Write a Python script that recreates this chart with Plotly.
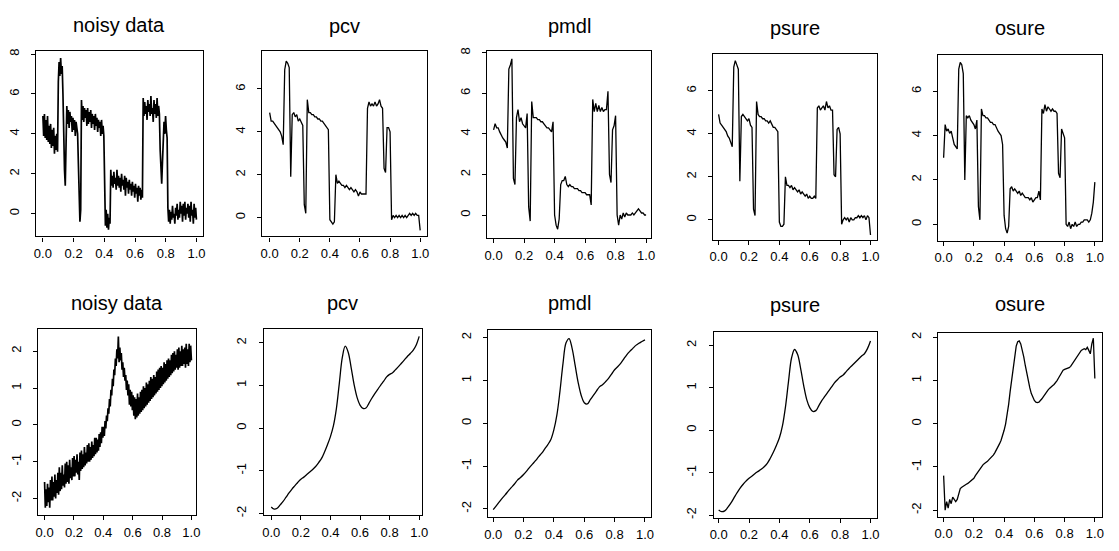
import numpy as np
import plotly.graph_objects as go

# ---------------- data ----------------
titles = ["noisy data", "pcv", "pmdl", "psure", "osure",
          "noisy data", "pcv", "pmdl", "psure", "osure"]

x_ticks = [0.0, 0.2, 0.4, 0.6, 0.8, 1.0]
x_tick_labels = ["0.0", "0.2", "0.4", "0.6", "0.8", "1.0"]
y_ticks_top_a = [0, 2, 4, 6, 8]
y_ticks_top_b = [0, 2, 4, 6]
y_ticks_bottom = [-2, -1, 0, 1, 2]

# Row 1: noisy blocks-type signal (200 equally spaced samples on [0,1])
noisy_blocks = [
    4.9, 3.9, 5.0, 3.8, 4.7, 3.7, 4.9, 3.6, 4.4, 3.5, 4.5, 3.3, 4.2, 3.4, 4.3, 3.0, 3.9, 3.2, 4.0, 3.1,
    6.6, 7.6, 6.9, 7.8, 7.0, 7.4,
    6.0, 3.6, 2.2, 1.4,
    4.6, 5.4, 4.5, 5.2, 4.3, 5.1, 4.6, 4.9, 4.1, 4.8, 4.2, 4.7, 3.9, 4.6, 4.3, 4.0,
    2.5, 0.9, -0.4, 0.2,
    5.7, 4.7, 5.4, 4.6, 5.3, 4.8, 5.2, 4.4, 5.3, 4.5, 5.1, 4.6, 5.2, 4.3, 5.0, 4.5, 4.9, 4.2, 5.0, 4.4,
    4.8, 4.1, 4.7, 4.3, 4.6, 3.9, 4.7, 4.0, 4.4, 3.9,
    -0.1, -0.6, 0.2, -0.7, 0.0, -0.8, -0.2, -0.5,
    2.2, 1.4, 1.9, 1.3, 2.1, 1.5, 1.8, 1.2, 2.2, 1.4, 1.9, 1.3, 1.8, 1.1, 2.0, 1.4, 1.7, 1.2, 1.9, 0.9,
    1.8, 1.3, 1.6, 1.0, 1.7, 1.2, 1.5, 0.9, 1.6, 1.1, 1.4, 0.8, 1.5, 1.0, 1.3, 0.6, 1.4, 0.9, 1.3, 0.7,
    1.2, 0.8,
    5.8, 4.9, 5.6, 5.0, 5.4, 4.7, 5.7, 5.1, 5.5, 4.9, 5.9, 5.0, 5.3, 4.6, 5.7, 5.0, 5.5, 4.8, 5.8, 4.9,
    5.4, 5.0,
    3.2, 1.7, 1.5, 2.6,
    3.9, 4.6, 4.0, 4.9, 4.2, 3.8,
    0.3, -0.4, 0.2, -0.5, 0.1, -0.3, 0.4, -0.2, 0.0, -0.5, 0.3, -0.1, 0.5, -0.3, 0.2, -0.2, 0.6, 0.0, 0.4, -0.4,
    0.5, -0.1, 0.6, -0.3, 0.3, 0.0, 0.5, -0.2, 0.4, -0.4, 0.6, -0.1, 0.2, -0.5, 0.5, -0.2, 0.3, -0.3,
]

# Row 1 fits (101 equally spaced points on [0,1])
pcv_blocks = [
    4.9, 4.5, 4.5, 4.4, 4.3, 4.2, 4.1, 4.0, 3.8, 3.4,
    6.9, 7.3, 7.2, 7.0, 1.9, 4.8, 4.9, 4.7, 4.8, 4.5,
    4.6, 4.4, 4.3, 0.6, 0.2, 5.5, 4.9, 4.9, 4.8, 4.8,
    4.7, 4.7, 4.6, 4.6, 4.5, 4.5, 4.4, 4.3, 4.2, 4.1,
    -0.1, -0.2, -0.3, -0.2, 2.0, 1.6, 1.7, 1.6, 1.5, 1.5,
    1.4, 1.5, 1.4, 1.3, 1.4, 1.3, 1.2, 1.3, 1.2, 1.0,
    1.2, 1.1, 1.1, 1.1, 1.1, 5.1, 5.4, 5.2, 5.3, 5.2,
    5.4, 5.2, 5.3, 5.5, 5.2, 5.1, 2.3, 2.1, 4.2, 4.2,
    4.0, -0.1, 0.1, 0.0, 0.1, 0.0, 0.1, 0.0, 0.1, 0.0,
    0.1, 0.0, 0.1, 0.2, 0.1, 0.2, 0.1, 0.2, 0.1, 0.1,
    -0.6,
]
pmdl_blocks = [
    4.2, 4.5, 4.3, 4.3, 4.1, 3.9, 3.8, 3.7, 3.6, 3.3,
    7.2, 7.4, 7.7, 1.8, 1.5, 4.8, 5.2, 4.6, 4.8, 4.5,
    4.4, 4.3, 5.0, 0.4, -0.3, 5.6, 4.8, 4.8, 4.8, 4.7,
    4.7, 4.6, 4.6, 4.5, 4.4, 4.3, 4.3, 4.2, 4.1, 4.6,
    0.0, -0.5, -0.7, -0.2, 1.5, 1.7, 1.7, 1.9, 1.5, 1.4,
    1.5, 1.4, 1.4, 1.3, 1.3, 1.3, 1.2, 1.2, 1.1, 1.1,
    1.1, 1.0, 1.0, 1.0, 0.5, 5.7, 5.1, 5.5, 5.1, 5.4,
    5.1, 5.3, 5.1, 5.2, 5.2, 6.1, 2.0, 1.6, 4.2, 4.4,
    4.9, 0.0, -0.5, 0.0, -0.2, 0.1, -0.1, 0.1, 0.0, 0.0,
    0.0, 0.1, 0.0, 0.1, 0.2, 0.3, 0.2, 0.1, 0.1, 0.0,
    0.0,
]
psure_blocks = [
    4.9, 4.5, 4.4, 4.3, 4.2, 4.1, 3.9, 3.8, 3.6, 3.4,
    7.1, 7.4, 7.2, 7.0, 1.8, 4.8, 4.9, 4.8, 4.7, 4.6,
    4.7, 4.4, 4.3, 0.5, 0.2, 5.5, 4.9, 4.8, 4.8, 4.7,
    4.7, 4.6, 4.6, 4.5, 4.6, 4.4, 4.3, 4.3, 4.2, 4.1,
    -0.1, -0.3, -0.3, -0.2, 2.0, 1.6, 1.6, 1.5, 1.6, 1.4,
    1.5, 1.4, 1.3, 1.4, 1.2, 1.3, 1.2, 1.1, 1.2, 1.0,
    1.1, 1.0, 1.0, 1.1, 1.0, 5.2, 5.3, 5.1, 5.2, 5.3,
    5.1, 5.5, 5.2, 5.3, 5.1, 5.1, 2.1, 2.0, 4.2, 4.3,
    4.0, -0.2, 0.0, 0.1, 0.0, 0.1, -0.1, 0.1, 0.0, 0.0,
    0.1, 0.1, 0.2, 0.1, 0.2, 0.1, 0.2, 0.0, 0.2, 0.1,
    -0.7,
]
osure_blocks = [
    3.0, 4.5, 4.2, 4.3, 4.1, 4.2, 3.9, 3.6, 3.5, 3.4,
    7.0, 7.3, 7.2, 6.8, 2.0, 4.9, 4.8, 4.9, 4.7, 4.6,
    4.5, 4.3, 4.7, 0.8, 0.2, 5.2, 4.9, 4.9, 4.8, 4.8,
    4.7, 4.6, 4.6, 4.5, 4.5, 4.3, 4.2, 4.1, 4.0, 3.6,
    0.4, -0.2, -0.4, -0.1, 1.6, 1.7, 1.5, 1.6, 1.5, 1.4,
    1.5, 1.3, 1.4, 1.3, 1.2, 1.2, 1.2, 1.1, 1.2, 1.0,
    1.1, 1.2, 1.2, 1.5, 1.1, 5.2, 5.0, 5.4, 5.1, 5.3,
    5.2, 5.1, 5.2, 5.1, 5.1, 5.0, 2.3, 2.1, 4.3, 4.1,
    3.9, 0.0, -0.1, 0.1, -0.2, 0.0, -0.1, 0.1, -0.1, 0.0,
    0.0, 0.1, 0.1, 0.2, 0.2, 0.2, 0.1, 0.2, 0.5, 1.0,
    1.9,
]

# Row 2: noisy smooth signal with a bump (200 equally spaced samples on [0,1])
noisy_bump = [
    -1.55, -2.25, -1.75, -2.2, -1.6, -2.1, -1.7, -2.25, -1.5, -2.05,
    -1.4, -2.05, -1.55, -1.95, -1.35, -2.0, -1.5, -1.85, -1.3, -1.9,
    -1.15, -1.8, -1.3, -1.75, -1.1, -1.65, -1.35, -1.7, -1.05, -1.6,
    -1.0, -1.55, -1.1, -1.6, -0.95, -1.45, -1.15, -1.5, -0.9, -1.4,
    -0.85, -1.4, -0.95, -1.3, -0.8, -1.35, -1.0, -1.5, -0.75, -1.25,
    -0.7, -1.2, -0.8, -1.15, -0.6, -1.1, -0.75, -1.05, -0.55, -1.0,
    -0.5, -1.0, -0.6, -0.95, -0.45, -0.9, -0.55, -0.85, -0.35, -0.8,
    -0.35, -0.75, -0.4, -0.7, -0.25, -0.6, -0.2, -0.5, -0.05, -0.35,
    -0.05, -0.3, 0.1, -0.1, 0.25, 0.1, 0.45, 0.3, 0.7, 0.5,
    0.95, 0.8, 1.25, 1.05, 1.5, 1.35, 1.8, 1.6, 2.05, 1.8,
    2.4, 1.7, 2.1, 1.75, 1.95, 1.5, 1.7, 1.3, 1.55, 1.2,
    1.35, 0.95, 1.2, 0.8, 1.1, 0.55, 0.95, 0.5, 0.9, 0.4,
    0.8, 0.25, 0.75, 0.15, 0.7, 0.2, 0.85, 0.25, 0.75, 0.3,
    0.9, 0.35, 0.95, 0.4, 1.05, 0.45, 1.0, 0.5, 1.15, 0.55,
    1.1, 0.6, 1.2, 0.65, 1.3, 0.7, 1.25, 0.75, 1.35, 0.8,
    1.3, 0.85, 1.45, 0.9, 1.5, 0.95, 1.55, 1.0, 1.6, 1.05,
    1.55, 1.1, 1.7, 1.15, 1.65, 1.2, 1.75, 1.25, 1.8, 1.3,
    1.75, 1.35, 1.9, 1.4, 1.95, 1.45, 2.0, 1.5, 1.9, 1.55,
    2.05, 1.5, 2.1, 1.55, 2.0, 1.6, 2.15, 1.6, 2.05, 1.65,
    2.1, 1.55, 2.2, 1.65, 2.05, 1.6, 2.2, 1.7, 2.15, 1.75,
]

# Row 2 fits (51 equally spaced points on [0,1])
pcv_bump = [
    -1.85, -1.9, -1.88, -1.8, -1.72, -1.62, -1.52, -1.43, -1.35, -1.27,
    -1.2, -1.15, -1.09, -1.03, -0.97, -0.9, -0.81, -0.71, -0.56, -0.39,
    -0.2, 0.05, 0.45, 1.05, 1.65, 1.92, 1.78, 1.42, 1.02, 0.72,
    0.54, 0.46, 0.47, 0.58, 0.7, 0.81, 0.91, 1.01, 1.1, 1.2,
    1.26, 1.3, 1.37, 1.44, 1.52, 1.6, 1.68, 1.75, 1.83, 1.95, 2.15,
]
pmdl_bump = [
    -2.02, -1.93, -1.84, -1.75, -1.67, -1.58, -1.5, -1.42, -1.33, -1.27,
    -1.2, -1.12, -1.03, -0.95, -0.87, -0.78, -0.7, -0.6, -0.5, -0.38,
    -0.15, 0.2, 0.75, 1.4, 1.88, 1.98, 1.75, 1.35, 0.95, 0.65,
    0.48, 0.45, 0.55, 0.65, 0.75, 0.85, 0.9, 0.97, 1.05, 1.15,
    1.25, 1.32, 1.4, 1.5, 1.6, 1.68, 1.75, 1.82, 1.87, 1.91, 1.95,
]
psure_bump = [
    -1.88, -1.92, -1.9, -1.82, -1.72, -1.6, -1.48, -1.37, -1.28, -1.2,
    -1.13, -1.08, -1.02, -0.97, -0.92, -0.86, -0.78, -0.66, -0.52, -0.36,
    -0.18, 0.1, 0.55, 1.15, 1.7, 1.9, 1.78, 1.45, 1.05, 0.72,
    0.53, 0.44, 0.46, 0.58, 0.7, 0.8, 0.9, 1.0, 1.1, 1.18,
    1.25, 1.3, 1.38, 1.46, 1.53, 1.6, 1.67, 1.74, 1.8, 1.92, 2.1,
]
# osure fit (101 equally spaced points on [0,1])
osure_bump = [
    -1.2, -2.0, -1.8, -1.95, -1.75, -1.85, -1.7, -1.75, -1.8, -1.75,
    -1.6, -1.5, -1.47, -1.44, -1.42, -1.4, -1.38, -1.35, -1.32, -1.3,
    -1.26, -1.2, -1.15, -1.08, -1.02, -0.98, -0.95, -0.92, -0.9, -0.87,
    -0.83, -0.8, -0.76, -0.72, -0.66, -0.6, -0.53, -0.46, -0.38, -0.28,
    -0.15, 0.0, 0.2, 0.45, 0.75, 1.05, 1.35, 1.6, 1.8, 1.9,
    1.92, 1.85, 1.72, 1.55, 1.35, 1.15, 0.98, 0.83, 0.7, 0.6,
    0.54, 0.5, 0.49, 0.5, 0.53, 0.58, 0.63, 0.69, 0.74, 0.78,
    0.82, 0.86, 0.88, 0.91, 0.95, 1.0, 1.06, 1.12, 1.19, 1.24,
    1.26, 1.27, 1.28, 1.3, 1.33, 1.38, 1.43, 1.5, 1.56, 1.6,
    1.65, 1.7, 1.72, 1.74, 1.72, 1.77, 1.7, 1.62, 1.85, 1.98,
    1.05,
]

series = [noisy_blocks, pcv_blocks, pmdl_blocks, psure_blocks, osure_blocks,
          noisy_bump, pcv_bump, pmdl_bump, psure_bump, osure_bump]
line_shapes = ["linear"] * 5 + ["linear", "spline", "spline", "spline", "linear"]
line_widths = [1.7, 1.3, 1.3, 1.3, 1.3, 1.7, 1.3, 1.3, 1.3, 1.3]
y_tick_sets = [y_ticks_top_a, y_ticks_top_b, y_ticks_top_a, y_ticks_top_b, y_ticks_top_b] + [y_ticks_bottom] * 5

# ---------------- layout (pixel geometry of each panel box, page coords) ----------------
W, H = 1119, 551
# left, top, right, bottom (px)
boxes = [
    (32.3, 48.0, 200.7, 235.0), (261.0, 48.0, 427.0, 235.0), (488.3, 47.7, 653.7, 236.7),
    (716.0, 50.7, 881.7, 238.3), (943.3, 51.7, 1108.7, 239.3),
    (34.3, 328.3, 194.3, 516.7), (262.3, 328.3, 421.7, 516.7), (489.0, 330.0, 653.3, 519.0),
    (716.7, 331.7, 881.7, 519.3), (943.3, 332.3, 1108.7, 518.3),
]
x_ranges = [
    (-0.045, 1.041), (-0.048, 1.044), (-0.040, 1.034), (-0.037, 1.043), (-0.037, 1.046),
    (-0.045, 1.034), (-0.051, 1.016), (-0.033, 1.039), (-0.033, 1.043), (-0.037, 1.046),
]
y_ranges = [
    (-1.14, 8.13), (-0.88, 7.75), (-1.14, 8.08), (-0.92, 7.70), (-0.74, 7.63),
    (-2.45, 2.61), (-2.04, 2.33), (-2.20, 2.17), (-2.06, 2.31), (-2.15, 2.11),
]
title_y_px = [21, 22, 22, 24, 24, 302, 302, 302, 304, 303]


def fx(px):
    return px / W


def fy(px):
    return 1 - px / H


FONT = "Liberation Sans, Arial, Helvetica, sans-serif"

fig = go.Figure()
annotations = []
for k in range(10):
    n = k + 1
    ys = series[k]
    xs = np.linspace(0.0, 1.0, len(ys))
    fig.add_trace(go.Scatter(
        x=xs, y=ys, mode="lines",
        line=dict(color="black", width=line_widths[k], shape=line_shapes[k]),
        xaxis="x" if n == 1 else f"x{n}", yaxis="y" if n == 1 else f"y{n}",
        showlegend=False, hoverinfo="skip",
    ))
    l, t, r, b = boxes[k]
    xa = dict(
        domain=[fx(l), fx(r)], range=list(x_ranges[k]),
        tickvals=x_ticks, ticktext=x_tick_labels,
        ticks="outside", ticklen=4, tickcolor="black", tickwidth=1,
        showline=True, mirror=True, linecolor="black", linewidth=1.2,
        showgrid=False, zeroline=False,
        tickfont=dict(family=FONT, size=13, color="black"),
        ticklabelstandoff=1,
        anchor="y" if n == 1 else f"y{n}",
    )
    ya = dict(
        domain=[fy(b), fy(t)], range=list(y_ranges[k]),
        tickvals=y_tick_sets[k], ticktext=[str(v) for v in y_tick_sets[k]],
        tickangle=-90,
        ticks="outside", ticklen=4, tickcolor="black", tickwidth=1,
        showline=True, mirror=True, linecolor="black", linewidth=1.2,
        showgrid=False, zeroline=False,
        tickfont=dict(family=FONT, size=13, color="black"),
        ticklabelstandoff=7,
        anchor="x" if n == 1 else f"x{n}",
    )
    fig.layout["xaxis" if n == 1 else f"xaxis{n}"] = xa
    fig.layout["yaxis" if n == 1 else f"yaxis{n}"] = ya
    annotations.append(dict(
        text=titles[k], xref="paper", yref="paper",
        x=fx((l + r) / 2), y=fy(title_y_px[k]),
        xanchor="center", yanchor="middle", showarrow=False,
        font=dict(family=FONT, size=20, color="black"),
    ))

fig.update_layout(
    width=W, height=H, autosize=False,
    margin=dict(l=0, r=0, t=0, b=0),
    paper_bgcolor="white", plot_bgcolor="white",
    annotations=annotations,
)

fig.write_html(
    "out.html",
    config={"displayModeBar": False},
    post_script="document.body.style.margin='0';document.body.style.overflow='hidden';",
)
